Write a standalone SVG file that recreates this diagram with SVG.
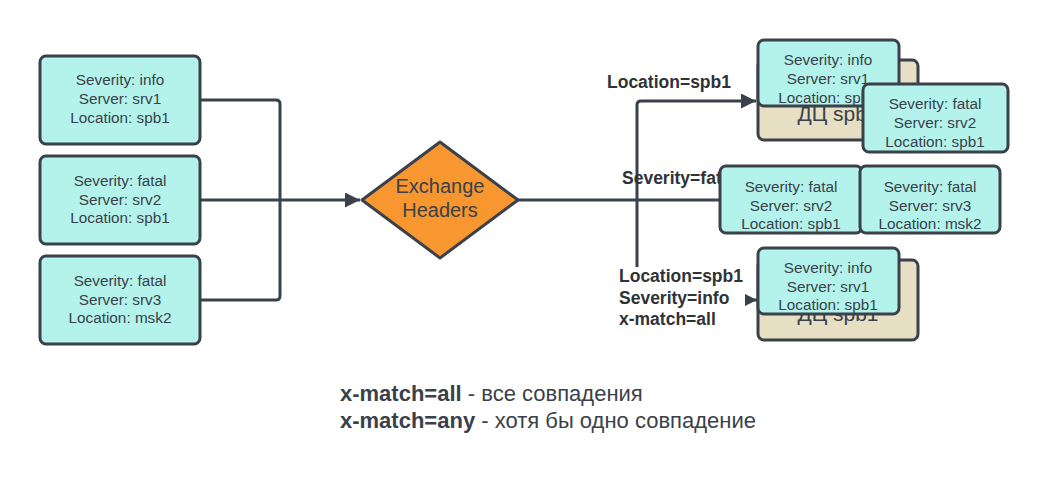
<svg xmlns="http://www.w3.org/2000/svg" width="1048" height="480" viewBox="0 0 1048 480">
<style>
.box{fill:#b4f3eb;stroke:#3a414a;stroke-width:3}
.dc{fill:#e6dfc4;stroke:#3a414a;stroke-width:3}
.t{font-family:"Liberation Sans",Arial,sans-serif;font-size:15.3px;fill:#3a414a;text-anchor:middle;dominant-baseline:central}
.lbl{font-family:"Liberation Sans",Arial,sans-serif;font-size:17.5px;font-weight:bold;fill:#2e3339;dominant-baseline:central}
.dct{font-family:"Liberation Sans",Arial,sans-serif;font-size:21px;fill:#3a414a;text-anchor:middle;dominant-baseline:central}
.c{fill:none;stroke:#3a414a;stroke-width:3;stroke-linejoin:round}
.leg{font-family:"Liberation Sans",Arial,sans-serif;font-size:22px;fill:#3a414a;dominant-baseline:central}
</style>
<defs>
<marker id="arr" viewBox="0 0 10 10" refX="10" refY="5" markerWidth="6.5" markerHeight="5" orient="auto" markerUnits="strokeWidth">
<path d="M0,0 L10,5 L0,10 z" fill="#3a414a"/>
</marker>
</defs>
<rect width="1048" height="480" fill="#ffffff"/>
<g id="connectors">
<path class="c" d="M200,100 H276 Q280,100 280,104 V200"/>
<path class="c" d="M200,300 H276 Q280,300 280,296 V200"/>
<path class="c" d="M200,200 H360" marker-end="url(#arr)"/>
<path class="c" d="M518,200 H720"/>
<path class="c" d="M637,200 V105 Q637,101 641,101 H756" marker-end="url(#arr)"/>
<path class="c" d="M637,200 V296 Q637,300 641,300 H757" marker-end="url(#arr)"/>
</g>
<g id="labels">
<text class="lbl" x="607" y="82">Location=spb1</text>
<text class="lbl" x="622" y="178">Severity=fatal</text>
<rect x="616" y="267" width="129" height="64" fill="#ffffff"/>
<text class="lbl" x="619" y="276">Location=spb1</text>
<text class="lbl" x="619" y="298">Severity=info</text>
<text class="lbl" x="619" y="319">x-match=all</text>
</g>
<g id="msg1"><rect class="box" x="40" y="56" width="160" height="88" rx="6"/>
<text class="t" x="120" y="79">Severity: info</text><text class="t" x="120" y="98">Server: srv1</text><text class="t" x="120" y="117">Location: spb1</text></g>
<g id="msg2"><rect class="box" x="40" y="156" width="160" height="88" rx="6"/>
<text class="t" x="120" y="180">Severity: fatal</text><text class="t" x="120" y="199">Server: srv2</text><text class="t" x="120" y="217">Location: spb1</text></g>
<g id="msg3"><rect class="box" x="40" y="256" width="160" height="88" rx="6"/>
<text class="t" x="120" y="280">Severity: fatal</text><text class="t" x="120" y="299">Server: srv3</text><text class="t" x="120" y="317">Location: msk2</text></g>
<g id="exchange"><path d="M440,142 L518,200 L440,258 L362,200 Z" fill="#f8962f" stroke="#3a414a" stroke-width="3" stroke-linejoin="round"/>
<text class="t" x="440" y="186" style="font-size:20px">Exchange</text><text class="t" x="440" y="210" style="font-size:20px">Headers</text></g>
<g id="dc1"><rect class="dc" x="758" y="60" width="160" height="80" rx="6"/><text class="dct" x="838" y="113">ДЦ spb1</text></g>
<g id="q1a"><rect class="box" x="758" y="40" width="141" height="66" rx="6"/>
<text class="t" x="828" y="59">Severity: info</text><text class="t" x="828" y="78">Server: srv1</text><text class="t" x="828" y="97">Location: spb1</text></g>
<g id="q1b"><rect class="box" x="863" y="84" width="145" height="68" rx="6"/>
<text class="t" x="935" y="103">Severity: fatal</text><text class="t" x="935" y="122">Server: srv2</text><text class="t" x="935" y="141">Location: spb1</text></g>
<g id="q2a"><rect class="box" x="720" y="166" width="142" height="67" rx="6"/>
<text class="t" x="791" y="186">Severity: fatal</text><text class="t" x="791" y="205">Server: srv2</text><text class="t" x="791" y="223">Location: spb1</text></g>
<g id="q2b"><rect class="box" x="860" y="166" width="140" height="67" rx="6"/>
<text class="t" x="930" y="186">Severity: fatal</text><text class="t" x="930" y="205">Server: srv3</text><text class="t" x="930" y="223">Location: msk2</text></g>
<g id="dc3"><rect class="dc" x="758" y="260" width="160" height="80" rx="6"/><text class="dct" x="838" y="313">ДЦ spb1</text></g>
<g id="q3"><rect class="box" x="758" y="248" width="141" height="66" rx="6"/>
<text class="t" x="828" y="267">Severity: info</text><text class="t" x="828" y="286">Server: srv1</text><text class="t" x="828" y="304">Location: spb1</text></g>
<g id="legend">
<text class="leg" x="340" y="393"><tspan font-weight="bold">x-match=all</tspan> - все совпадения</text>
<text class="leg" x="340" y="420"><tspan font-weight="bold">x-match=any</tspan> - хотя бы одно совпадение</text>
</g>
</svg>
